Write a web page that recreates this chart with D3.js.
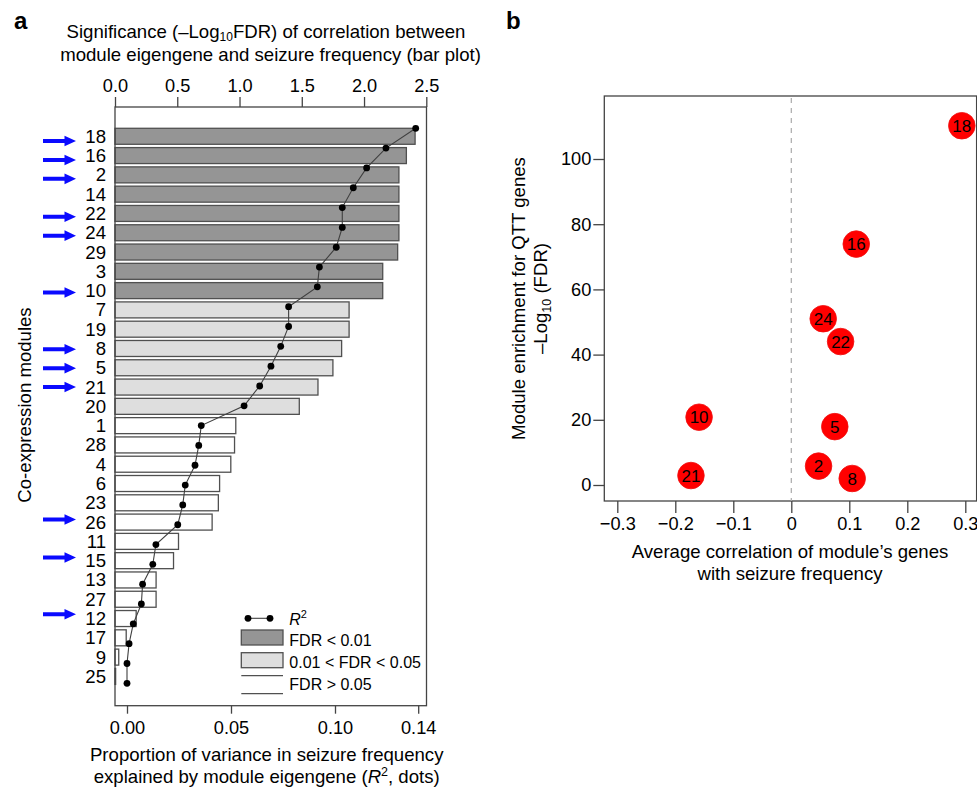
<!DOCTYPE html>
<html>
<head>
<meta charset="utf-8">
<script src="https://cdn.jsdelivr.net/npm/d3@7"></script>
<style>
  html, body { margin: 0; padding: 0; background: #fff; }
  svg { display: block; font-family: "Liberation Sans", Arial, Helvetica, sans-serif; }
</style>
</head>
<body>
<svg id="chart" width="977" height="790"></svg>
<script>
// ---------- Panel a data ----------
const modules = ["18","16","2","14","22","24","29","3","10","7","19","8","5","21","20","1","28","4","6","23","26","11","15","13","27","12","17","9","25"];
const negLog10FDR = [2.41,2.34,2.28,2.28,2.28,2.28,2.27,2.15,2.15,1.88,1.88,1.82,1.75,1.63,1.48,0.97,0.96,0.93,0.84,0.83,0.78,0.51,0.47,0.33,0.33,0.17,0.09,0.03,0.005];
const r2Values = [0.1388,0.1245,0.1152,0.1088,0.1035,0.1035,0.1006,0.0925,0.0915,0.0777,0.0777,0.0739,0.0692,0.0638,0.0563,0.0357,0.0345,0.0327,0.0280,0.0268,0.0244,0.0139,0.0124,0.0075,0.0069,0.0030,0.0010,0.0000,0.0000];
const arrowModules = ["18","16","2","22","24","10","8","5","21","26","15","12"];
const topTicks = [0, 0.5, 1.0, 1.5, 2.0, 2.5];
const bottomTicks = [0, 0.05, 0.10, 0.14];
const fdrLegend = ["FDR < 0.01", "0.01 < FDR < 0.05", "FDR > 0.05"];

// ---------- Panel b data ----------
const qttModules = ["18","16","24","22","10","5","2","8","21"];
const avgCorrelation = [0.294,0.112,0.055,0.085,-0.159,0.075,0.047,0.105,-0.173];
const enrichment = [110.2,73.9,51.0,44.0,20.8,17.9,5.8,2.0,2.9];
const bxTicks = [-0.3,-0.2,-0.1,0,0.1,0.2,0.3];
const byTicks = [0,20,40,60,80,100];

const svg = d3.select("#chart");
const FONT = 18.6;
const TICKFONT = 18.2;
const col = { dark: "#959595", light: "#dedede", white: "#ffffff", stroke: "#505050" };

// ================= PANEL A =================
const aLeft = 115, aRight = 426.5, aTop = 107, aBottom = 705.7;
const xBar = d3.scaleLinear().domain([0, 2.5]).range([115, 426.3]);
const xR2 = d3.scaleLinear().domain([0, 0.14]).range([127, 418.2]);
const yBand = d3.scaleBand().domain(modules).range([125.0, 687.7]).padding(0.1706);
const yDot = d3.scalePoint().domain(modules).range([128.3, 683.3]);
const yArrow = d3.scalePoint().domain(modules).range([141, 671]);

function fdrClass(v) { return v > 2 ? col.dark : (v > 1.30103 ? col.light : col.white); }

const gA = svg.append("g");

// panel label
svg.append("text").attr("x", 14).attr("y", 28.5).attr("font-size", 24).attr("font-weight", "bold").text("a");

// top title
const t1 = gA.append("text").attr("x", 266).attr("y", 38.3).attr("text-anchor", "middle").attr("font-size", FONT);
t1.append("tspan").text("Significance (\u2013Log");
t1.append("tspan").attr("font-size", 12).attr("dy", 2.5).text("10");
t1.append("tspan").attr("dy", -2.5).text("FDR) of correlation between");
gA.append("text").attr("x", 270.5).attr("y", 60.8).attr("text-anchor", "middle").attr("font-size", FONT)
  .text("module eigengene and seizure frequency (bar plot)");

// bars
gA.append("g").selectAll("rect").data(modules).join("rect")
  .attr("x", xBar(0))
  .attr("y", d => yBand(d))
  .attr("width", (d, i) => Math.max(0.6, xBar(negLog10FDR[i]) - xBar(0)))
  .attr("height", yBand.bandwidth())
  .attr("fill", (d, i) => fdrClass(negLog10FDR[i]))
  .attr("stroke", col.stroke).attr("stroke-width", 1.3);

// box
gA.append("rect").attr("x", aLeft).attr("y", aTop).attr("width", aRight - aLeft).attr("height", aBottom - aTop)
  .attr("fill", "none").attr("stroke", "#444").attr("stroke-width", 1.3);

// top axis
const topAxis = gA.append("g").attr("transform", `translate(0,${aTop})`)
  .call(d3.axisTop(xBar).tickValues(topTicks).tickSize(10).tickPadding(5).tickFormat(d3.format(".1f")));
topAxis.select(".domain").remove();
topAxis.selectAll("line").attr("stroke", "#444").attr("stroke-width", 1.3);
topAxis.selectAll("text").attr("font-size", TICKFONT).attr("font-family", "inherit").attr("fill", "#000");

// bottom axis
const botAxis = gA.append("g").attr("transform", `translate(0,${aBottom})`)
  .call(d3.axisBottom(xR2).tickValues(bottomTicks).tickSize(8).tickPadding(7.5).tickFormat(d3.format(".2f")));
botAxis.select(".domain").remove();
botAxis.selectAll("line").attr("stroke", "#444").attr("stroke-width", 1.3);
botAxis.selectAll("text").attr("font-size", TICKFONT).attr("font-family", "inherit").attr("fill", "#000");

// module labels
gA.append("g").selectAll("text").data(modules).join("text")
  .attr("x", 106).attr("y", d => yBand(d) + yBand.bandwidth() / 2).attr("dy", "0.35em")
  .attr("text-anchor", "end").attr("font-size", FONT).text(d => d);

// arrows
const arrowG = gA.append("g");
arrowModules.forEach(m => {
  const y = yArrow(m);
  arrowG.append("path")
    .attr("d", `M43,${y - 2} L64.5,${y - 2} L64.5,${y - 5.3} L76,${y} L64.5,${y + 5.3} L64.5,${y + 2} L43,${y + 2} Z`)
    .attr("fill", "#0a0aff");
});

// y title
gA.append("text").attr("transform", "translate(30.5,405) rotate(-90)").attr("text-anchor", "middle")
  .attr("font-size", FONT).text("Co-expression modules");

// R2 line and dots
const line = d3.line().x((d, i) => xR2(r2Values[i])).y(d => yDot(d));
gA.append("path").datum(modules).attr("d", line).attr("fill", "none").attr("stroke", "#404040").attr("stroke-width", 1.1);
gA.append("g").selectAll("circle").data(modules).join("circle")
  .attr("cx", (d, i) => xR2(r2Values[i])).attr("cy", d => yDot(d)).attr("r", 3.4).attr("fill", "#000");

// bottom title
gA.append("text").attr("x", 266.7).attr("y", 760.7).attr("text-anchor", "middle").attr("font-size", FONT)
  .text("Proportion of variance in seizure frequency");
const bt = gA.append("text").attr("x", 266.7).attr("y", 782.7).attr("text-anchor", "middle").attr("font-size", FONT);
bt.append("tspan").text("explained by module eigengene (");
bt.append("tspan").attr("font-style", "italic").text("R");
bt.append("tspan").attr("font-size", 12.5).attr("dy", -7).text("2");
bt.append("tspan").attr("dy", 7).text(", dots)");

// legend
const lg = gA.append("g");
const legFont = 16;
lg.append("line").attr("x1", 248).attr("x2", 270).attr("y1", 618.3).attr("y2", 618.3).attr("stroke", "#404040").attr("stroke-width", 1.1);
[248, 270].forEach(x => lg.append("circle").attr("cx", x).attr("cy", 618.3).attr("r", 3.4).attr("fill", "#000"));
const lr = lg.append("text").attr("x", 289.3).attr("y", 624.5).attr("font-size", legFont);
lr.append("tspan").attr("font-style", "italic").text("R");
lr.append("tspan").attr("font-size", 11).attr("dy", -7).text("2");
const legFills = [col.dark, col.light];
const legRectY = [630, 652.7];
legFills.forEach((f, i) => {
  lg.append("rect").attr("x", 241.3).attr("y", legRectY[i]).attr("width", 41.7).attr("height", 15)
    .attr("fill", f).attr("stroke", col.stroke).attr("stroke-width", 1.3);
});
[675.7, 693.7].forEach(y => lg.append("line").attr("x1", 241.3).attr("x2", 283).attr("y1", y).attr("y2", y)
  .attr("stroke", col.stroke).attr("stroke-width", 1.3));
const legTextY = [645.8, 668.2, 690.2];
fdrLegend.forEach((t, i) => lg.append("text").attr("x", 289.3).attr("y", legTextY[i]).attr("font-size", legFont).text(t));

// ================= PANEL B =================
const bLeft = 604.3, bRight = 976.6, bTop = 96, bBottom = 501;
const xB = d3.scaleLinear().domain([-0.3, 0.3]).range([617.3, 965.3]);
const yB = d3.scaleLinear().domain([0, 100]).range([485, 159]);
const gB = svg.append("g");

svg.append("text").attr("x", 506).attr("y", 29.3).attr("font-size", 24).attr("font-weight", "bold").text("b");

gB.append("rect").attr("x", bLeft).attr("y", bTop).attr("width", bRight - bLeft).attr("height", bBottom - bTop)
  .attr("fill", "none").attr("stroke", "#444").attr("stroke-width", 1.3);

gB.append("line").attr("x1", xB(0)).attr("x2", xB(0)).attr("y1", bTop + 2).attr("y2", bBottom)
  .attr("stroke", "#aaa").attr("stroke-width", 1.2).attr("stroke-dasharray", "5,5");

const bxAxis = gB.append("g").attr("transform", `translate(0,${bBottom})`)
  .call(d3.axisBottom(xB).tickValues(bxTicks).tickSize(12).tickPadding(4)
    .tickFormat(d => d === 0 ? "0" : d3.format(".1f")(d)));
bxAxis.select(".domain").remove();
bxAxis.selectAll("line").attr("stroke", "#444").attr("stroke-width", 1.3);
bxAxis.selectAll("text").attr("font-size", TICKFONT).attr("font-family", "inherit").attr("fill", "#000");

const byAxis = gB.append("g").attr("transform", `translate(${bLeft},0)`)
  .call(d3.axisLeft(yB).tickValues(byTicks).tickSize(11).tickPadding(2));
byAxis.select(".domain").remove();
byAxis.selectAll("line").attr("stroke", "#444").attr("stroke-width", 1.3);
byAxis.selectAll("text").attr("font-size", TICKFONT).attr("font-family", "inherit").attr("fill", "#000");

// points
const pts = gB.append("g").selectAll("g").data(qttModules).join("g")
  .attr("transform", (d, i) => `translate(${xB(avgCorrelation[i])},${yB(enrichment[i])})`);
pts.append("circle").attr("r", 13.3).attr("fill", "#ff0000").attr("stroke", "#f01010").attr("stroke-width", 0.8);
pts.append("text").attr("text-anchor", "middle").attr("dy", "0.36em").attr("font-size", 17).attr("fill", "#000").text(d => d);

// titles
gB.append("text").attr("x", 790).attr("y", 558).attr("text-anchor", "middle").attr("font-size", FONT)
  .text("Average correlation of module\u2019s genes");
gB.append("text").attr("x", 790).attr("y", 580).attr("text-anchor", "middle").attr("font-size", FONT)
  .text("with seizure frequency");
gB.append("text").attr("transform", "translate(524.5,298.5) rotate(-90)").attr("text-anchor", "middle")
  .attr("font-size", FONT).text("Module enrichment for QTT genes");
const yl2 = gB.append("text").attr("transform", "translate(547,298.5) rotate(-90)").attr("text-anchor", "middle").attr("font-size", FONT);
yl2.append("tspan").text("\u2013Log");
yl2.append("tspan").attr("font-size", 12.5).attr("dy", 4).text("10");
yl2.append("tspan").attr("dy", -4).text(" (FDR)");
</script>
</body>
</html>
